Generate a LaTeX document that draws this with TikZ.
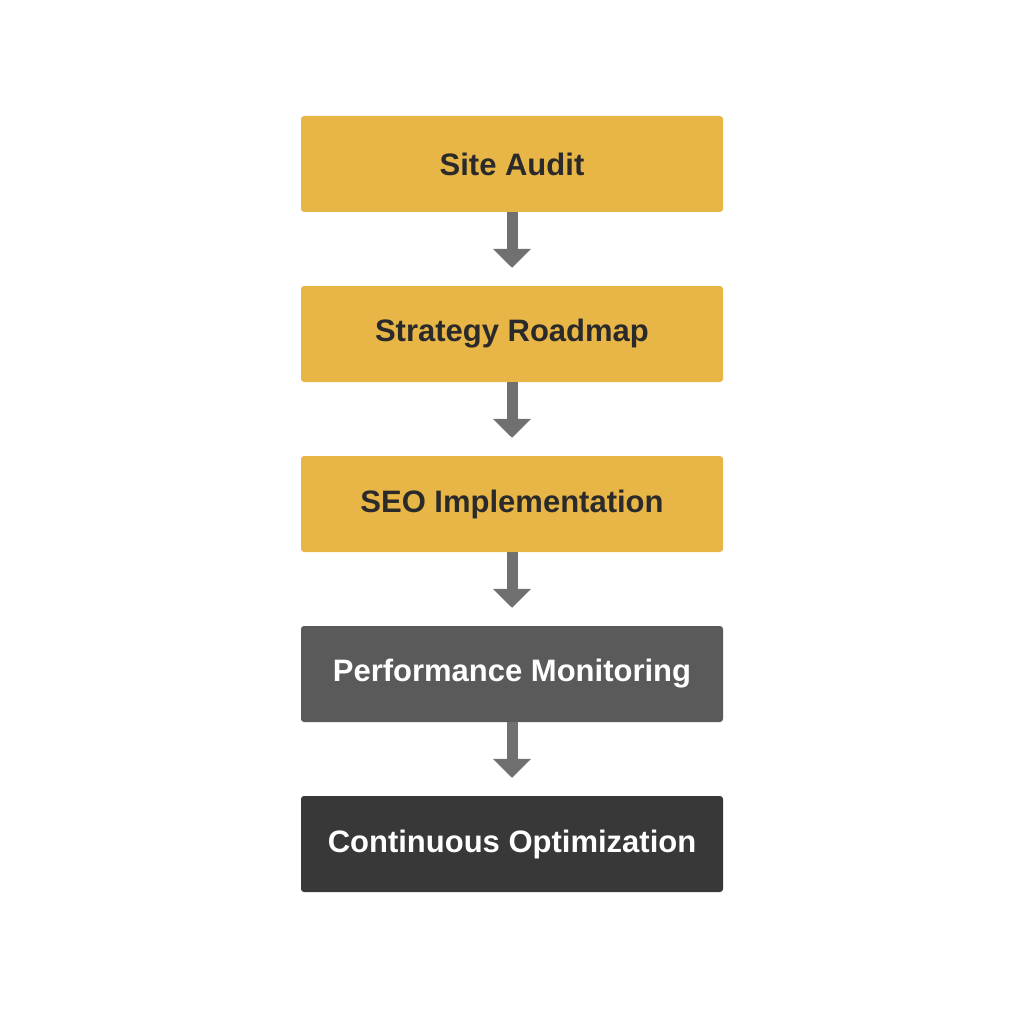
\documentclass[tikz,border=0pt]{standalone}
\usepackage{fontspec}
\setmainfont{Liberation Sans}
\usetikzlibrary{arrows.meta}

\definecolor{stepyellow}{HTML}{E8B547}
\definecolor{stepgray}{HTML}{5A5A5A}
\definecolor{stepdark}{HTML}{383838}
\definecolor{arrowgray}{HTML}{707070}
\definecolor{textdark}{HTML}{2A2A2A}

\begin{document}
\begin{tikzpicture}[x=1pt,y=-1pt,
  stage/.style={rectangle, rounded corners=3pt, minimum width=422pt, minimum height=96pt,
    inner sep=0pt, font=\fontsize{31}{36}\selectfont\bfseries},
  flow/.style={arrowgray, line width=11pt, -{Triangle[width=37pt,length=19pt]}, shorten >=18pt}]
\useasboundingbox (0,0) rectangle (1024,1024);

\node[stage, fill=stepyellow, text=textdark] (audit) at (512,164) {Site Audit};
\node[stage, fill=stepyellow, text=textdark] (roadmap) at (512,334) {Strategy Roadmap};
\node[stage, fill=stepyellow, text=textdark] (seo) at (512,504) {SEO Implementation};
\node[stage, fill=stepgray, text=white] (monitor) at (512,674) {Performance Monitoring};
\node[stage, fill=stepdark, text=white] (optim) at (512,844) {Continuous Optimization};

\draw[flow] (audit) -- (roadmap);
\draw[flow] (roadmap) -- (seo);
\draw[flow] (seo) -- (monitor);
\draw[flow] (monitor) -- (optim);
\end{tikzpicture}
\end{document}
